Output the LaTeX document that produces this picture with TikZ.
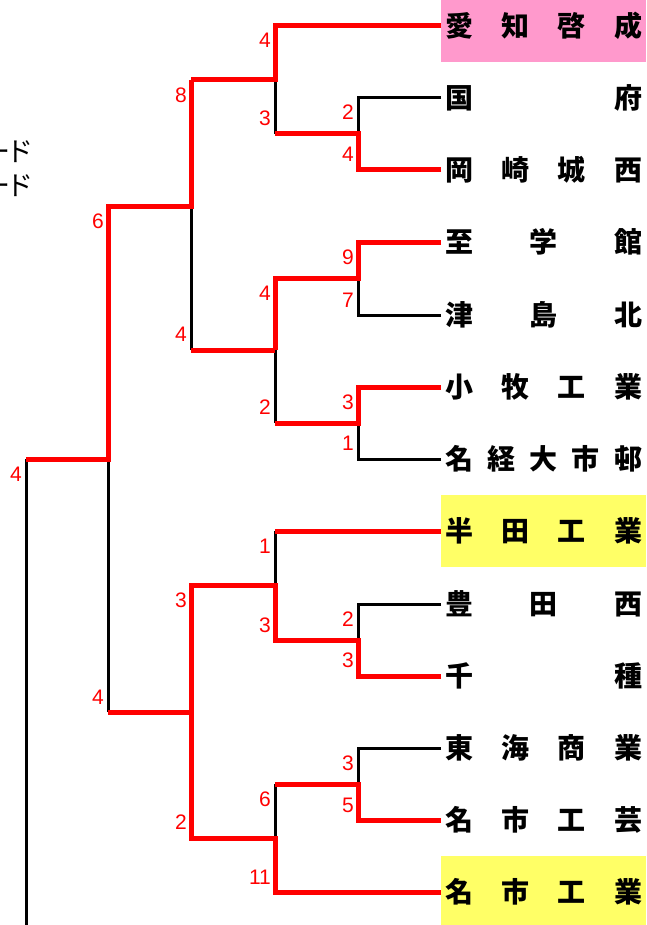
\documentclass[tikz,border=0pt]{standalone}
\usepackage{fontspec}
\setmainfont{Liberation Sans}
\newfontfamily\jpfont{Noto Sans CJK JP}
\definecolor{seedpink}{RGB}{255,153,204}
\definecolor{hostyellow}{RGB}{255,255,102}
\newcommand\tname[1]{\hbox to 197pt{#1}}
\tikzset{
  win/.style={draw=red, line width=5pt},
  lose/.style={draw=black, line width=3pt},
  score/.style={red, anchor=east, inner sep=0pt, font=\fontsize{21}{21}\selectfont},
  team/.style={anchor=west, inner xsep=4pt, inner ysep=0pt, minimum height=72pt,
    minimum width=205pt, font=\jpfont\bfseries\fontsize{28}{28}\selectfont},
  note/.style={anchor=east, inner sep=0pt, font=\jpfont\fontsize{27}{27}\selectfont},
}
\begin{document}
\begin{tikzpicture}[x=1pt, y=-1pt]
        \clip (0,0) rectangle (646,925);

        % Teams
        \node[team, fill=seedpink] (aichi) at (441,26) {\tname{愛\hfill 知\hfill 啓\hfill 成}};
        \node[team] (kokufu) at (441,98) {\tname{国\hfill 府}};
        \node[team] (okazaki) at (441,170) {\tname{岡\hfill 崎\hfill 城\hfill 西}};
        \node[team] (shigaku) at (441,242) {\tname{至\hfill 学\hfill 館}};
        \node[team] (tsushima) at (441,315) {\tname{津\hfill 島\hfill 北}};
        \node[team] (komaki) at (441,387) {\tname{小\hfill 牧\hfill 工\hfill 業}};
        \node[team] (meikei) at (441,459) {\tname{名\hfill 経\hfill 大\hfill 市\hfill 邨}};
        \node[team, fill=hostyellow] (handa) at (441,531) {\tname{半\hfill 田\hfill 工\hfill 業}};
        \node[team] (toyota) at (441,604) {\tname{豊\hfill 田\hfill 西}};
        \node[team] (chikusa) at (441,676) {\tname{千\hfill 種}};
        \node[team] (tokai) at (441,748) {\tname{東\hfill 海\hfill 商\hfill 業}};
        \node[team] (geijutsu) at (441,820) {\tname{名\hfill 市\hfill 工\hfill 芸}};
        \node[team, fill=hostyellow] (meiko) at (441,892) {\tname{名\hfill 市\hfill 工\hfill 業}};

        % Seed note (cut off at the left)
        \node[note] (seed1) at (34,152) {ー\kern-4pt ド};
        \node[note] (seed2) at (34,186) {ー\kern-4pt ド};

        % Junctions
        \coordinate (mA) at (358,134);
        \coordinate (mB) at (275,80);
        \coordinate (mC) at (358,278);
        \coordinate (mD) at (358,423);
        \coordinate (mE) at (275,350);
        \coordinate (mF) at (191,207);
        \coordinate (mG) at (358,640);
        \coordinate (mH) at (275,585);
        \coordinate (mI) at (358,784);
        \coordinate (mJ) at (275,838);
        \coordinate (mK) at (191,712);
        \coordinate (mL) at (108,459);
        \coordinate (bottom) at (26,925);

        % Lost lines
        \draw[lose] (kokufu.west) -| (mA);
        \draw[lose] (mA -| mB) -- (mB);
        \draw[lose] (tsushima.west) -| (mC);
        \draw[lose] (meikei.west) -| (mD);
        \draw[lose] (mD -| mE) -- (mE);
        \draw[lose] (mE -| mF) -- (mF);
        \draw[lose] (toyota.west) -| (mG);
        \draw[lose] (handa.west -| mH) -- (mH);
        \draw[lose] (tokai.west) -| (mI);
        \draw[lose] (mI -| mJ) -- (mJ);
        \draw[lose] (mJ -| mK) -- (mK);
        \draw[lose] (mK -| mL) -- (mL);
        \draw[lose] (mL -| bottom) -- (bottom);

        % Won lines
        \draw[win] (okazaki.west) -| (mA) -- (mA -| mB);
        \draw[win] (aichi.west) -| (mB) -- (mB -| mF);
        \draw[win] (shigaku.west) -| (mC) -- (mC -| mE) -- (mE);
        \draw[win] (komaki.west) -| (mD) -- (mD -| mE);
        \draw[win] (mE) -- (mE -| mF);
        \draw[win] (mB -| mF) -- (mF) -- (mF -| mL) -- (mL) -- (mL -| bottom);
        \draw[win] (chikusa.west) -| (mG) -- (mG -| mH) -- (mH) -- (mH -| mK) -- (mK) -- (mK -| mL);
        \draw[win] (handa.west) -- (handa.west -| mH);
        \draw[win] (geijutsu.west) -| (mI) -- (mI -| mJ);
        \draw[win] (meiko.west) -| (mJ) -- (mJ -| mK) -- (mK);

        % Scores
        \node[score] (sA1) at (354,112) {2};
        \node[score] (sA2) at (354,154) {4};
        \node[score] (sC1) at (354,257) {9};
        \node[score] (sC2) at (354,300) {7};
        \node[score] (sD1) at (354,402) {3};
        \node[score] (sD2) at (354,443) {1};
        \node[score] (sG1) at (354,619) {2};
        \node[score] (sG2) at (354,660) {3};
        \node[score] (sI1) at (354,763) {3};
        \node[score] (sI2) at (354,805) {5};
        \node[score] (sB1) at (271,40) {4};
        \node[score] (sB2) at (271,118) {3};
        \node[score] (sE1) at (271,293) {4};
        \node[score] (sE2) at (271,407) {2};
        \node[score] (sH1) at (271,546) {1};
        \node[score] (sH2) at (271,625) {3};
        \node[score] (sJ1) at (271,799) {6};
        \node[score] (sJ2) at (271,877) {11};
        \node[score] (sF1) at (187,95) {8};
        \node[score] (sF2) at (187,334) {4};
        \node[score] (sK1) at (187,600) {3};
        \node[score] (sK2) at (187,822) {2};
        \node[score] (sL1) at (104,221) {6};
        \node[score] (sL2) at (104,697) {4};
        \node[score] (sM1) at (22,474) {4};
    \end{tikzpicture}
\end{document}
